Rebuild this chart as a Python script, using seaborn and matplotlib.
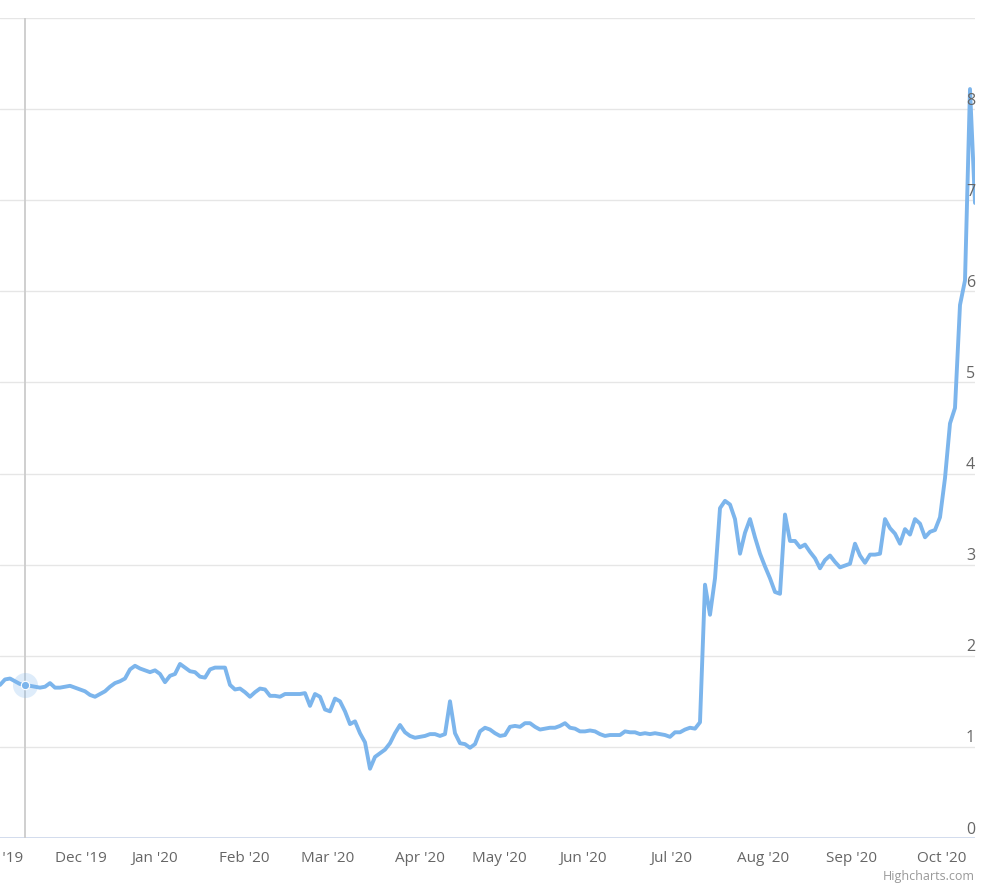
import matplotlib
matplotlib.use("Agg")
import matplotlib.pyplot as plt
import matplotlib.transforms as mtransforms
import numpy as np
import seaborn as sns

# price series on an ordinal axis (one value per step)
values = [
    1.68, 1.74, 1.75, 1.72, 1.69, 1.68, 1.67, 1.66, 1.65, 1.66,
    1.70, 1.65, 1.65, 1.66, 1.67, 1.65, 1.63, 1.61, 1.57, 1.55,
    1.58, 1.61, 1.66, 1.70, 1.72, 1.75, 1.85, 1.89, 1.86, 1.84,
    1.82, 1.84, 1.80, 1.71, 1.78, 1.80, 1.91, 1.87, 1.83, 1.82,
    1.77, 1.76, 1.85, 1.87, 1.87, 1.87, 1.68, 1.63, 1.64, 1.60,
    1.55, 1.60, 1.64, 1.63, 1.56, 1.56, 1.55, 1.58, 1.58, 1.58,
    1.58, 1.59, 1.45, 1.58, 1.55, 1.41, 1.39, 1.53, 1.50, 1.39,
    1.25, 1.28, 1.15, 1.05, 0.76, 0.89, 0.93, 0.97, 1.04, 1.15,
    1.24, 1.16, 1.12, 1.10, 1.11, 1.12, 1.14, 1.14, 1.12, 1.14,
    1.50, 1.15, 1.04, 1.03, 0.99, 1.03, 1.17, 1.21, 1.19, 1.15,
    1.12, 1.13, 1.22, 1.23, 1.22, 1.26, 1.26, 1.22, 1.19, 1.20,
    1.21, 1.21, 1.23, 1.26, 1.21, 1.20, 1.17, 1.17, 1.18, 1.17,
    1.14, 1.12, 1.13, 1.13, 1.13, 1.17, 1.16, 1.16, 1.14, 1.15,
    1.14, 1.15, 1.14, 1.13, 1.11, 1.16, 1.16, 1.19, 1.21, 1.20,
    1.27, 2.78, 2.45, 2.85, 3.62, 3.70, 3.66, 3.50, 3.12, 3.35,
    3.50, 3.30, 3.12, 2.98, 2.85, 2.70, 2.68, 3.55, 3.26, 3.26,
    3.19, 3.22, 3.14, 3.07, 2.96, 3.05, 3.10, 3.03, 2.97, 2.99,
    3.01, 3.23, 3.10, 3.02, 3.11, 3.11, 3.12, 3.50, 3.40, 3.34,
    3.23, 3.39, 3.33, 3.50, 3.45, 3.30, 3.36, 3.38, 3.52, 3.95,
    4.55, 4.72, 5.85, 6.12, 8.22, 6.97,
]
steps = np.arange(len(values))

# month starts on the ordinal axis
month_pos = [16.2, 31.0, 48.8, 65.6, 84.0, 99.8, 116.6, 134.2, 152.6, 170.4, 188.4]
month_labels = ["Dec '19", "Jan '20", "Feb '20", "Mar '20", "Apr '20", "May '20",
                "Jun '20", "Jul '20", "Aug '20", "Sep '20", "Oct '20"]
first_label_pos = -0.6
first_label = "Nov '19"

y_ticks = [0, 1, 2, 3, 4, 5, 6, 7, 8]
hover_idx = 5

sns.set_style("white")
plt.rcParams['font.family'] = ['Open Sans', 'DejaVu Sans']

fig = plt.figure(figsize=(10, 8.86), dpi=100, facecolor="white")
ax = fig.add_axes([0.0, 0.0542, 0.975, 0.9255])

sns.lineplot(x=steps, y=values, ax=ax, color="#7cb5ec", linewidth=2.8,
             solid_joinstyle="round", zorder=3)

ax.set_xlim(0, len(values) - 1)
ax.set_ylim(0, 9)

# grid lines
for v in range(0, 10):
    ax.axhline(v, color="#e6e6e6", linewidth=1, zorder=1)

for s in ax.spines.values():
    s.set_visible(False)
ax.axhline(0, color="#ccd6eb", linewidth=1.2, zorder=2)

ax.set_yticks([])
ax.set_xticks(month_pos)
ax.set_xticklabels(month_labels)
ax.tick_params(axis="x", length=7.5, width=1, color="#ccd6eb", pad=2,
               labelsize=11, labelcolor="#666666")
ax.set_xlabel("")
ax.set_ylabel("")

# partially visible first month label
trans = mtransforms.offset_copy(ax.get_xaxis_transform(), fig=fig, x=0, y=-9.5, units="points")
ax.text(first_label_pos, 0, first_label, transform=trans, ha="center", va="top",
        fontsize=11, color="#666666", clip_on=False)

# y labels inside the plot on the right
ytrans = mtransforms.offset_copy(ax.get_yaxis_transform(), fig=fig, x=0, y=0.3, units="points")
for v in y_ticks:
    ax.text(1.0, v, str(v), transform=ytrans, ha="right", va="bottom",
            fontsize=11.5, color="#666666", zorder=4)

# hover crosshair and marker
ax.axvline(hover_idx, color="#cccccc", linewidth=1.3, zorder=2)
ax.plot(hover_idx, values[hover_idx], "o", markersize=18, color="#7cb5ec",
        alpha=0.25, markeredgewidth=0, zorder=4)
ax.plot(hover_idx, values[hover_idx], "o", markersize=6, color="#7cb5ec",
        markeredgecolor="white", markeredgewidth=0.8, zorder=5)

fig.text(0.975, 0.003, "Highcharts.com", ha="right", va="bottom",
         fontsize=9, color="#999999")

fig.savefig("out.png", dpi=100, facecolor="white")
